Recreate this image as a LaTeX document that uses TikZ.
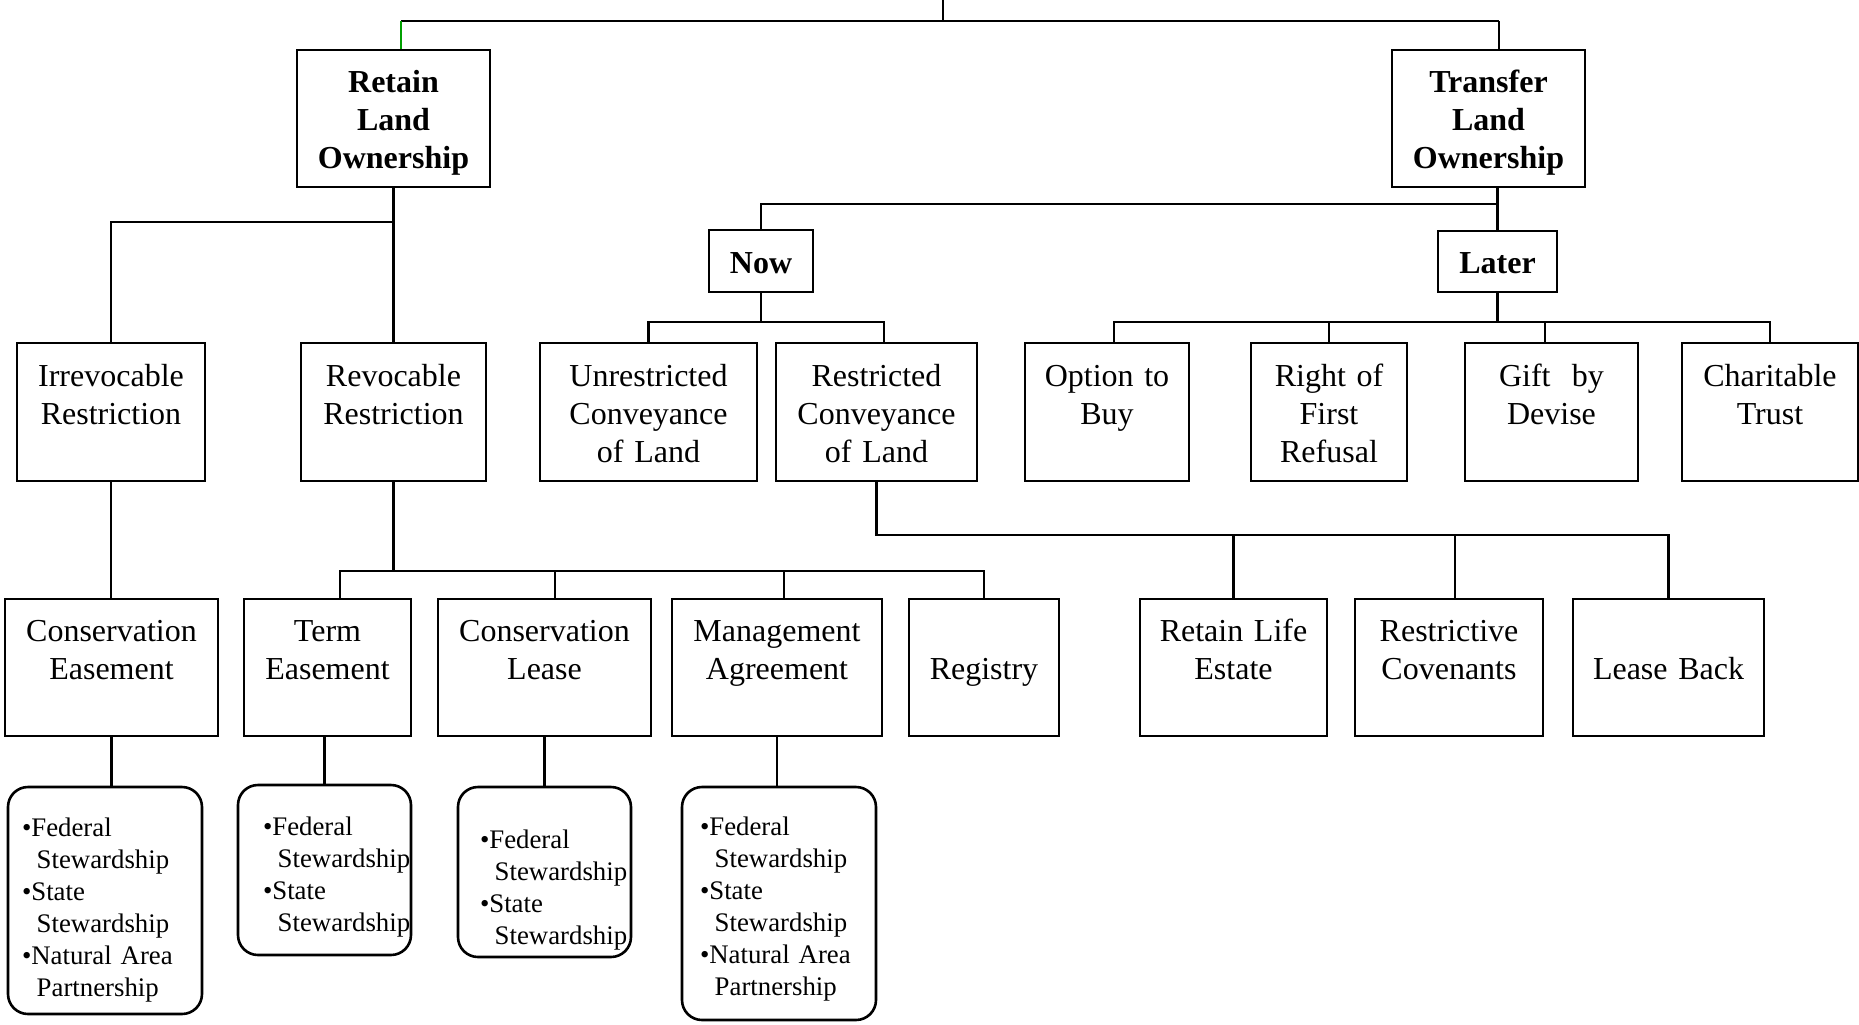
\documentclass[tikz,border=0pt]{standalone}
\usepackage{xcolor}
\usepackage{fontspec}
\setmainfont{Liberation Serif}
\definecolor{linegreen}{RGB}{0,160,0}

\begin{document}
\begin{tikzpicture}[x=0.5pt, y=-0.5pt,
  box/.style={draw=black, line width=1.3pt, inner sep=0pt, align=center, font=\fontsize{16pt}{19pt}\selectfont,
    execute at begin node={\rule{0pt}{18pt}}, execute at end node={\strut}},
  head/.style={box, font=\fontsize{16pt}{19pt}\selectfont\bfseries},
  list/.style={draw=black, line width=1.3pt, rounded corners=10pt, inner xsep=2pt, inner ysep=0pt, align=left,
    font=\fontsize{13.4pt}{16pt}\selectfont, execute at begin node={\hyphenpenalty=10000 \rule{0pt}{#1}}},
  wire/.style={line width=1.3pt}]
  \useasboundingbox (0,0) rectangle (1859,1024);

  % top level
  \coordinate (root) at (943,0);
  \node[head, text width=96.5pt, minimum height=68.5pt] (retain) at (393.5,118.5) {Retain\\Land\\Ownership};
  \node[head, text width=96.5pt, minimum height=68.5pt] (transfer) at (1488.5,118.5) {Transfer\\Land\\Ownership};
  \node[head, text width=52pt, minimum height=31pt] (now) at (761,261) {Now};
  \node[head, text width=59.5pt, minimum height=30.5pt] (later) at (1497.5,261.5) {Later};

  % second row
  \node[box, text width=94pt, minimum height=69pt] (irrev) at (111,412) {Irrevocable\\Restriction\\\mbox{}};
  \node[box, text width=92.5pt, minimum height=69pt] (revoc) at (393.5,412) {Revocable\\Restriction\\\mbox{}};
  \node[box, text width=108.5pt, minimum height=69pt] (unrestr) at (648.5,412) {Unrestricted\\Conveyance\\of Land};
  \node[box, text width=100.5pt, minimum height=69pt] (restr) at (876.5,412) {Restricted\\Conveyance\\of Land};
  \node[box, text width=82pt, minimum height=69pt] (option) at (1107,412) {Option to\\Buy\\\mbox{}};
  \node[box, text width=78pt, minimum height=69pt] (refusal) at (1329,412) {Right of\\First\\Refusal};
  \node[box, text width=86.5pt, minimum height=69pt] (gift) at (1551.5,412) {Gift\ \ by\\Devise\\\mbox{}};
  \node[box, text width=88pt, minimum height=69pt] (trust) at (1770,412) {Charitable\\Trust\\\mbox{}};

  % third row
  \node[box, text width=106.5pt, minimum height=68.5pt] (consease) at (111.5,667.5) {Conservation\\Easement\\\mbox{}};
  \node[box, text width=83.5pt, minimum height=68.5pt] (termease) at (327.5,667.5) {Term\\Easement\\\mbox{}};
  \node[box, text width=106.5pt, minimum height=68.5pt] (conslease) at (544.5,667.5) {Conservation\\Lease\\\mbox{}};
  \node[box, text width=105pt, minimum height=68.5pt] (mgmt) at (777,667.5) {Management\\Agreement\\\mbox{}};
  \node[box, text width=75pt, minimum height=68.5pt] (registry) at (984,667.5) {\mbox{}\\Registry\\\mbox{}};
  \node[box, text width=93.5pt, minimum height=68.5pt] (lifeest) at (1233.5,667.5) {Retain Life\\Estate\\\mbox{}};
  \node[box, text width=94pt, minimum height=68.5pt] (covenant) at (1449,667.5) {Restrictive\\Covenants\\\mbox{}};
  \node[box, text width=95.5pt, minimum height=68.5pt] (leaseback) at (1668.5,667.5) {\mbox{}\\Lease Back\\\mbox{}};

  % stewardship lists
  \node[list=18.5pt, text width=83pt, minimum width=97pt, minimum height=113.5pt] (celist) at (105,900.5)
    {•Federal\\\hspace*{0.55em}Stewardship\\•State\\\hspace*{0.55em}Stewardship\\•Natural Area\\\hspace*{0.55em}Partnership};
  \node[list=16pt, text width=61.5pt, minimum width=86.5pt, minimum height=85pt] (telist) at (324.5,870)
    {•Federal\\\hspace*{0.55em}Stewardship\\•State\\\hspace*{0.55em}Stewardship};
  \node[list=27pt, text width=64.5pt, minimum width=86.5pt, minimum height=85pt] (cllist) at (544.5,872)
    {•Federal\\\hspace*{0.55em}Stewardship\\•State\\\hspace*{0.55em}Stewardship};
  \node[list=15pt, text width=79pt, minimum width=97pt, minimum height=116.5pt] (malist) at (779,903.5)
    {•Federal\\\hspace*{0.55em}Stewardship\\•State\\\hspace*{0.55em}Stewardship\\•Natural Area\\\hspace*{0.55em}Partnership};

  % connectors from the top
  \draw[wire] (root) -- ++(0,21) coordinate (top);
  \draw[wire] ([xshift=3.75pt]retain.north |- top) -- ([xshift=5.25pt]transfer.north |- top);
  \draw[wire, draw=linegreen] ([xshift=3.75pt]retain.north) -- ([xshift=3.75pt]retain.north |- top);
  \draw[wire] ([xshift=5.25pt]transfer.north) -- ([xshift=5.25pt]transfer.north |- top);

  % retain branch
  \draw[wire] (retain.south) -- (revoc.north);
  \draw[wire] (irrev.north) |- (retain.south |- 0,222);
  \draw[wire] (irrev.south) -- (irrev.south |- consease.north);
  \draw[wire] (revoc.south) -- (revoc.south |- 0,571);
  \draw[wire] ([xshift=6.25pt]termease.north) |- (registry.north |- 0,571) -- (registry.north);
  \draw[wire] ([xshift=5.25pt]conslease.north) -- ([xshift=5.25pt]conslease.north |- 0,571);
  \draw[wire] ([xshift=3.5pt]mgmt.north) -- ([xshift=3.5pt]mgmt.north |- 0,571);

  % lists
  \draw[wire] (consease.south) -- (consease.south |- celist.north);
  \draw[wire] (telist.north |- termease.south) -- (telist.north);
  \draw[wire] (conslease.south) -- (cllist.north);
  \draw[wire] (mgmt.south) -- (mgmt.south |- malist.north);

  % transfer branch
  \draw[wire] (later.north |- transfer.south) -- (later.north);
  \draw[wire] (now.north) |- (later.north |- 0,204);
  \draw[wire] (now.south) -- (now.south |- 0,322);
  \draw[wire] (unrestr.north) |- ([xshift=3.75pt]restr.north |- 0,322) -- ([xshift=3.75pt]restr.north);
  \draw[wire] (later.south) -- (later.south |- 0,322);
  \draw[wire] ([xshift=3.5pt]option.north) |- (trust.north |- 0,322) -- (trust.north);
  \draw[wire] (refusal.north) -- (refusal.north |- 0,322);
  \draw[wire] ([xshift=-3.25pt]gift.north) -- ([xshift=-3.25pt]gift.north |- 0,322);

  % restricted conveyance
  \draw[wire] (restr.south) |- (leaseback.north |- 0,535) -- (leaseback.north);
  \draw[wire] (lifeest.north) -- (lifeest.north |- 0,535);
  \draw[wire] ([xshift=3pt]covenant.north) -- ([xshift=3pt]covenant.north |- 0,535);
\end{tikzpicture}
\end{document}
